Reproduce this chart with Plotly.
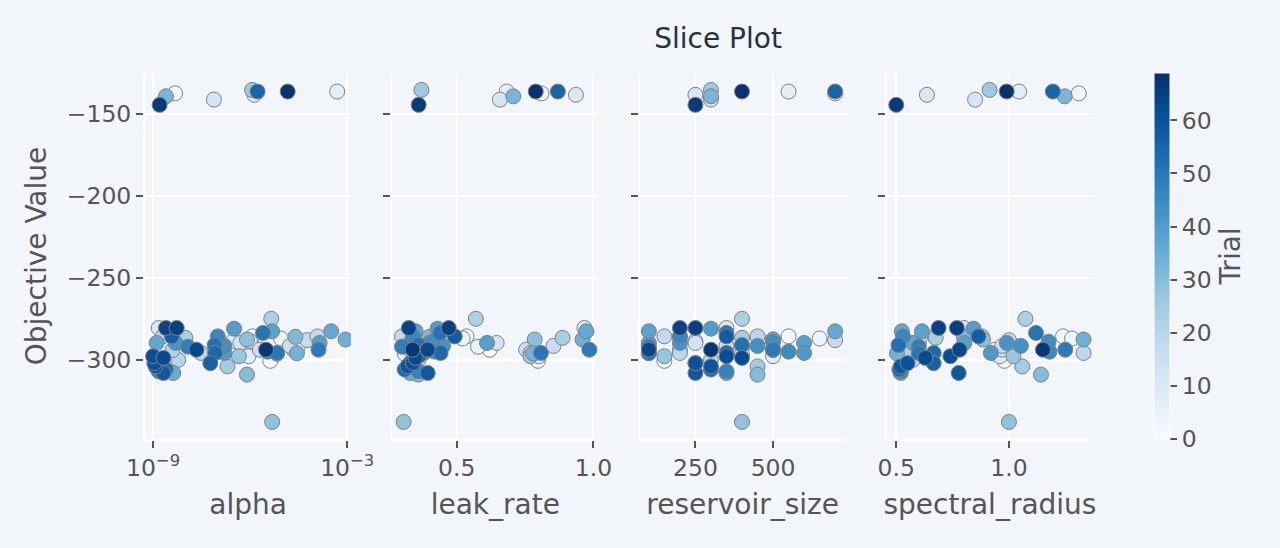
import plotly.graph_objects as go

# ---- data (one entry per trial) ----
trial = list(range(69))
objective_value = [
    -293.8, -300.6, -285.7, -137.7, -287.0, -292.0, -296.3, -136.6, -297.8, -288.6,
    -138.6, -280.6, -141.5, -289.7, -288.6, -293.8, -291.5, -288.0, -285.7, -295.8,
    -285.7, -300.0, -294.0, -275.0, -286.6, -304.0, -135.6, -297.8, -337.8, -287.6,
    -309.0, -286.0, -139.5, -296.0, -287.6, -308.0, -282.6, -289.7, -282.6, -289.7,
    -281.0, -295.8, -289.7, -291.5, -289.0, -295.0, -285.7, -307.0, -292.0, -293.8,
    -295.8, -283.6, -291.0, -305.9, -295.8, -136.6, -302.0, -285.7, -308.0, -304.0,
    -302.0, -297.8, -298.8, -293.8, -280.6, -280.6, -144.7, -293.8, -136.6,
]
alpha = [
    2.2e-5, 4.2e-6, 1.2e-6, 4.8e-9, 9.0e-6, 3.0e-5, 6.8e-6, 4.9e-4, 8.9e-7, 3.0e-7,
    1.35e-6, 1.5e-9, 7.6e-8, 5.0e-7, 1.0e-6, 2.0e-6, 1.7e-5, 5.8e-5, 1.2e-4, 3.0e-8,
    2.0e-9, 6.0e-9, 4.0e-9, 4.5e-6, 1.0e-8, 2.0e-7, 1.15e-6, 4.5e-7, 4.8e-6, 8.0e-7,
    8.0e-7, 2.5e-5, 2.5e-9, 2.8e-5, 8.9e-4, 4.2e-9, 3.2e-4, 1.3e-9, 4.8e-6, 1.4e-4,
    3.2e-7, 1.6e-7, 5.0e-9, 1.6e-7, 1.0e-7, 3.5e-6, 1.0e-7, 1.5e-9, 1.2e-8, 1.3e-4,
    6.8e-6, 2.5e-6, 8.0e-8, 2.5e-9, 8.3e-8, 1.7e-6, 5.9e-8, 3.8e-9, 2.1e-9, 1.2e-9,
    1.1e-9, 1.0e-9, 2.1e-9, 2.2e-8, 2.5e-9, 5.4e-9, 1.6e-9, 3.1e-6, 1.45e-5,
]
leak_rate = [
    0.621, 0.797, 0.536, 0.810, 0.522, 0.578, 0.310, 0.683, 0.800, 0.390,
    0.936, 0.967, 0.658, 0.646, 0.310, 0.754, 0.854, 0.400, 0.300, 0.770,
    0.420, 0.360, 0.330, 0.570, 0.887, 0.340, 0.371, 0.770, 0.306, 0.785,
    0.360, 0.400, 0.707, 0.780, 0.960, 0.330, 0.974, 0.330, 0.350, 0.611,
    0.430, 0.380, 0.400, 0.450, 0.410, 0.420, 0.340, 0.360, 0.300, 0.985,
    0.808, 0.440, 0.360, 0.310, 0.441, 0.870, 0.330, 0.493, 0.394, 0.320,
    0.340, 0.360, 0.350, 0.394, 0.325, 0.471, 0.361, 0.339, 0.789,
]
reservoir_size = [
    500, 150, 550, 700, 650, 400, 400, 550, 500, 250,
    250, 350, 300, 250, 500, 200, 350, 700, 150, 200,
    450, 300, 500, 400, 400, 450, 300, 150, 400, 500,
    450, 200, 300, 100, 500, 350, 700, 100, 100, 600,
    300, 600, 200, 450, 500, 550, 200, 350, 100, 500,
    100, 350, 400, 300, 350, 700, 250, 350, 250, 300,
    250, 350, 400, 100, 200, 250, 250, 300, 400,
]
spectral_radius = [
    0.940, 0.980, 1.240, 1.310, 1.280, 1.000, 0.940, 1.045, 0.960, 1.000,
    0.636, 0.800, 0.850, 0.600, 0.600, 0.970, 0.970, 1.000, 0.670, 1.331,
    0.880, 0.574, 0.550, 1.073, 0.675, 1.059, 0.914, 1.020, 1.000, 0.885,
    1.142, 0.800, 1.247, 0.503, 1.331, 0.520, 0.525, 0.574, 0.614, 0.802,
    0.843, 0.920, 0.991, 1.053, 1.176, 1.180, 0.530, 0.520, 0.600, 1.250,
    0.600, 1.120, 0.510, 0.514, 0.666, 1.195, 0.666, 0.865, 0.777, 0.520,
    0.550, 0.740, 0.629, 0.781, 0.688, 0.769, 0.500, 1.151, 0.990,
]
param_names = ["alpha", "leak_rate", "reservoir_size", "spectral_radius"]
y_ticks = [-150, -200, -250, -300]

params = [alpha, leak_rate, reservoir_size, spectral_radius]

BG = "#f2f5fa"
TXT = "#555555"
FONT = "DejaVu Sans"

fig = go.Figure()
gap = 0.0435
w = (1 - 3 * gap) / 4
for i, (name, vals) in enumerate(zip(param_names, params)):
    xa = "x" if i == 0 else f"x{i+1}"
    ya = "y" if i == 0 else f"y{i+1}"
    fig.add_trace(go.Scatter(
        x=vals, y=objective_value, mode="markers", name=name,
        xaxis=xa, yaxis=ya, showlegend=False,
        marker=dict(size=15, color=trial, coloraxis="coloraxis",
                    line=dict(width=1, color="grey")),
    ))

axis_common = dict(
    showgrid=True, gridcolor="white", gridwidth=2,
    showline=True, linecolor="white", linewidth=2,
    ticks="outside", ticklen=7, tickwidth=2, tickcolor=TXT,
    tickfont=dict(size=23.5, color=TXT, family=FONT),
    zeroline=False, automargin=False,
    title_font=dict(size=28, color=TXT, family=FONT),
)

x_ranges = [[-9.248, -2.88], [0.2647, 1.018], [70.2, 734], [0.4587, 1.373]]
layout = {}
for i, name in enumerate(param_names):
    d0 = i * (w + gap)
    xk = "xaxis" if i == 0 else f"xaxis{i+1}"
    yk = "yaxis" if i == 0 else f"yaxis{i+1}"
    xa = dict(axis_common, domain=[d0, d0 + w], anchor="y" if i == 0 else f"y{i+1}",
              title=dict(text=name, standoff=13), range=x_ranges[i])
    if i == 0:
        xa.update(type="log", tickmode="array", tickvals=[1e-9, 1e-3],
                  ticktext=["10<sup>−9</sup>", "10<sup>−3</sup>"])
    elif i == 2:
        xa.update(tickmode="linear", tick0=0, dtick=250)
    else:
        xa.update(tickmode="linear", tick0=0, dtick=0.5, tickformat=".1f")
    ya = dict(axis_common, domain=[0, 1], anchor="x" if i == 0 else f"x{i+1}",
              range=[-348.2, -125.3], tickmode="array", tickvals=y_ticks,
              showticklabels=(i == 0))
    if i == 0:
        ya.update(title=dict(text="Objective Value", standoff=12))
    else:
        ya.update(matches="y")
    layout[xk] = xa
    layout[yk] = ya

fig.update_layout(
    **layout,
    width=1280, height=548,
    template="none",
    paper_bgcolor=BG, plot_bgcolor=BG,
    font=dict(family=FONT, color=TXT, size=23.5),
    margin=dict(l=145, r=187, t=73, b=109, autoexpand=False),
    title=dict(text="Slice Plot", x=0.561, xref="container", xanchor="center",
               y=0.9307, yref="container", yanchor="middle",
               font=dict(size=28, color="#283143", family=FONT)),
    coloraxis=dict(
        colorscale="Blues", cmin=0, cmax=68.9,
        colorbar=dict(
            title=dict(text="Trial", side="right", font=dict(size=28, color=TXT, family=FONT)),
            x=1.0639, xanchor="left", xpad=0, y=0.5, yanchor="middle",
            len=1, lenmode="fraction", ypad=0, thickness=16,
            outlinewidth=1, outlinecolor="white",
            ticks="outside", ticklen=7, tickwidth=2, tickcolor=TXT,
            tickfont=dict(size=23.5, color=TXT, family=FONT),
            tickvals=[0, 10, 20, 30, 40, 50, 60],
        ),
    ),
)

fig.write_html("out.html")
